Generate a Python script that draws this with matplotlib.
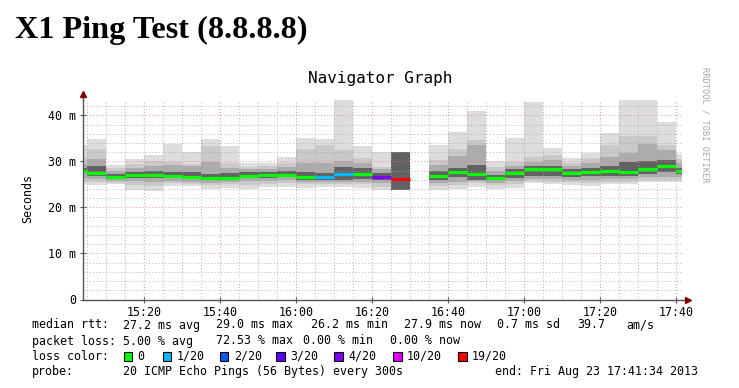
import numpy as np
import matplotlib
matplotlib.use("Agg")
import matplotlib.pyplot as plt

# ---------------- data ----------------
col_start = ["15:00", "15:05", "15:10", "15:15", "15:20", "15:25", "15:30", "15:35",
             "15:40", "15:45", "15:50", "15:55", "16:00", "16:05", "16:10", "16:15",
             "16:20", "16:25", "16:30", "16:35", "16:40", "16:45", "16:50", "16:55",
             "17:00", "17:05", "17:10", "17:15", "17:20", "17:25", "17:30", "17:35",
             "17:40"]
N = None
rtt_min = [25.0, 24.9, 25.0, 23.8, 23.6, 24.7, 24.7, 24.0, 24.3, 24.1, 24.4, 24.5,
           24.3, 24.5, 24.5, 24.3, 23.8, 23.8, N, 23.8, 24.1, 24.5, 24.0, 24.3,
           25.2, 25.0, 24.9, 24.7, 25.0, 25.0, 25.45, 25.45, 25.45]
rtt_p10 = [25.6, 25.6, 25.4, 24.9, 24.7, 25.2, 25.0, 24.9, 25.0, 24.9, 25.1, 25.2,
           25.0, 25.1, 25.0, 25.0, 24.5, 23.8, N, 24.6, 24.9, 25.2, 24.8, 25.0,
           25.7, 25.6, 25.5, 25.4, 25.6, 25.6, 26.0, 26.0, 26.0]
rtt_p25 = [26.4, 26.2, 25.8, 25.7, 25.6, 25.7, 25.6, 25.4, 25.5, 25.7, 25.8, 25.9,
           25.6, 25.6, 25.5, 25.6, 25.2, 23.8, N, 25.3, 25.6, 25.8, 25.4, 25.7,
           26.2, 26.2, 26.0, 26.0, 26.2, 26.2, 26.6, 26.7, 26.6]
rtt_p40 = [27.4, 26.8, 26.2, 26.4, 26.4, 26.3, 26.1, 25.9, 26.0, 26.4, 26.4, 26.5,
           25.9, 26.0, 26.0, 26.2, 25.9, 23.8, N, 26.0, 26.5, 26.0, 25.9, 26.4,
           26.9, 26.9, 26.7, 26.8, 26.9, 26.9, 27.3, 27.6, 27.2]
rtt_med = [28.0, 27.4, 26.6, 27.0, 27.0, 26.9, 26.7, 26.3, 26.4, 26.9, 27.0, 27.0,
           26.5, 26.5, 27.3, 27.3, 26.5, 26.2, N, 26.85, 27.6, 27.3, 26.3, 27.55,
           28.3, 28.3, 27.4, 27.7, 27.9, 27.6, 28.35, 29.05, 27.85]
rtt_p60 = [28.6, 28.9, 27.2, 27.7, 27.8, 27.6, 27.6, 27.3, 27.4, 27.6, 27.7, 27.8,
           27.6, 27.4, 28.8, 28.5, 27.4, 32.0, N, 27.8, 28.6, 29.2, 27.0, 28.3,
           28.9, 29.0, 28.4, 28.6, 28.9, 29.9, 30.0, 30.3, 28.6]
rtt_p75 = [29.5, 30.5, 27.9, 28.5, 29.0, 29.2, 28.9, 29.9, 28.6, 28.3, 28.4, 28.8,
           29.6, 29.6, 30.1, 29.6, 28.3, 32.0, N, 29.2, 31.2, 33.55, 28.0, 29.0,
           29.9, 30.3, 29.0, 29.6, 31.0, 31.75, 33.8, 32.5, 29.6]
rtt_p90 = [31.0, 32.7, 28.5, 29.4, 30.1, 29.9, 29.4, 33.4, 29.6, 28.8, 29.0, 29.6,
           32.7, 33.55, 32.5, 30.8, 28.8, 32.0, N, 30.3, 32.6, 34.6, 28.7, 29.9,
           31.0, 31.4, 29.6, 30.66, 33.55, 35.4, 35.4, 33.55, 30.5]
rtt_max = [33.5, 34.85, 29.1, 30.5, 31.4, 33.8, 32.1, 34.85, 33.4, 29.7, 29.6, 31.0,
           35.15, 34.85, 45.0, 33.3, 31.95, 32.0, N, 33.6, 36.45, 40.9, 30.0, 35.15,
           42.96, 32.97, 30.66, 31.9, 36.1, 45.0, 45.0, 38.47, 31.7]
loss = [0, 0, 0, 0, 0, 0, 0, 0, 0, 0, 0, 0, 0, 1, 1, 0, 4, 19, N, 0, 0, 0, 0, 0,
        0, 0, 0, 0, 0, 0, 0, 0, 0]

loss_levels = ["0", "1/20", "2/20", "3/20", "4/20", "10/20", "19/20"]
loss_colors = ["#00ff00", "#00b8ff", "#0059ff", "#5e00ff", "#7e00ff", "#dd00ff", "#ff0000"]
loss_count = [0, 1, 2, 3, 4, 10, 19]

x_tick_labels = ["15:20", "15:40", "16:00", "16:20", "16:40", "17:00", "17:20", "17:40"]
y_tick_labels = ["0", "10 m", "20 m", "30 m", "40 m"]

stats_rtt = ["27.2 ms avg", "29.0 ms max", "26.2 ms min", "27.9 ms now", "0.7 ms sd", "39.7", "am/s"]
stats_loss = ["5.00 % avg", "72.53 % max", "0.00 % min", "0.00 % now"]

# ---------------- helpers ----------------
W, H = 739, 388
MONO = "DejaVu Sans Mono"


def tmin(s):
    h, m = s.split(":")
    return (int(h) - 15) * 60 + int(m)


def px(x, y):
    return x / W, 1 - y / H


fig = plt.figure(figsize=(W / 100, H / 100), dpi=100)
fig.patch.set_facecolor("white")

ax_l, ax_r, ax_b, ax_t = 83, 681.6, 299.5, 99.5
ax = fig.add_axes([ax_l / W, (H - ax_b) / H, (ax_r - ax_l) / W, (ax_b - ax_t) / H])
ax.set_facecolor("white")

x0 = tmin("15:04")
x1 = tmin("17:41") + 34 / 60
ymax = 43.43
ax.set_xlim(x0, x1)
ax.set_ylim(0, ymax)

starts = np.array([tmin(s) for s in col_start], dtype=float)


def arr(a):
    return np.array([np.nan if v is None else v for v in a], dtype=float)


mn, p10, p25, p40 = arr(rtt_min), arr(rtt_p10), arr(rtt_p25), arr(rtt_p40)
md, p60, p75, p90, mx = arr(rtt_med), arr(rtt_p60), arr(rtt_p75), arr(rtt_p90), arr(rtt_max)

band_pairs = [(mn, mx, "#dddddd"), (p10, p90, "#c9c9c9"),
              (p25, p75, "#acacac"), (p40, p60, "#626262")]
ok = ~np.isnan(md)
for lo, hi, c in band_pairs:
    ax.bar(starts[ok], (hi - lo)[ok], bottom=lo[ok], width=5, align="edge",
           color=c, linewidth=0, zorder=2)

# grid (drawn over the smoke, like rrdtool)
for m in np.arange(0, ymax, 2):
    major = (m % 10 == 0)
    ax.axhline(m, color="#e08080" if major else "#a8a8a8", alpha=0.75,
               lw=0.75, ls=(0, (1, 2)), zorder=3)
for t in np.arange(5, x1, 5):
    if t <= x0:
        continue
    major = (t % 20 == 0)
    ax.axvline(t, color="#e08080" if major else "#a8a8a8", alpha=0.75,
               lw=0.75, ls=(0, (1, 2)), zorder=3)

# median lines coloured by loss
for s, v, l in zip(starts, md, loss):
    if l is None or np.isnan(v):
        continue
    c = loss_colors[loss_count.index(l)]
    ax.hlines(v, s, s + 5, colors=c, lw=2.3, zorder=4)

# axes styling
for sp in ["top", "right"]:
    ax.spines[sp].set_visible(False)
for sp in ["left", "bottom"]:
    ax.spines[sp].set_color("#555555")
    ax.spines[sp].set_linewidth(1.0)
    ax.spines[sp].set_zorder(5)

ax.set_xticks([tmin(s) for s in x_tick_labels])
ax.set_xticklabels(x_tick_labels, fontfamily=MONO, fontsize=8.4)
ax.set_yticks([0, 10, 20, 30, 40])
ax.set_yticklabels(y_tick_labels, fontfamily=MONO, fontsize=8.4)
ax.tick_params(axis="both", direction="inout", length=4, width=0.8, color="#555555", pad=2.5)
ax.tick_params(axis="y", pad=3)

# axis extensions and arrows
ax.plot([0, 0], [1, 1.03], transform=ax.transAxes, color="#555555", lw=1, clip_on=False)
ax.plot([1, 1.009], [0, 0], transform=ax.transAxes, color="#555555", lw=1, clip_on=False)
ax.plot([0], [1.03], transform=ax.transAxes, marker="^", ms=5, color="#7f0000",
        clip_on=False, zorder=6)
ax.plot([1.011], [0], transform=ax.transAxes, marker=">", ms=5, color="#7f0000",
        clip_on=False, zorder=6)

# titles
fig.text(*px(15, 38), "X1 Ping Test (8.8.8.8)", fontfamily="Liberation Serif",
         fontweight="bold", fontsize=23.2, ha="left", va="baseline")
fig.text(*px(380, 79), "Navigator Graph", fontfamily=MONO, fontsize=11.5,
         ha="center", va="center")
fig.text(*px(28, 199), "Seconds", fontfamily=MONO, fontsize=8.4, rotation=90,
         ha="center", va="center")
fig.text(*px(705, 125), "RRDTOOL / TOBI OETIKER", fontfamily=MONO, fontsize=6.2,
         rotation=270, ha="center", va="center", color="#a8a8a8")

# legend rows
fs = 8.4
y1, y2, y3, y4 = 325, 341, 356, 372
fig.text(*px(32, y1), "median rtt:", fontfamily=MONO, fontsize=fs, va="center")
for xx, s in zip([123, 216, 311, 404, 497, 577, 626], stats_rtt):
    fig.text(*px(xx, y1), s, fontfamily=MONO, fontsize=fs, va="center")
fig.text(*px(32, y2), "packet loss:", fontfamily=MONO, fontsize=fs, va="center")
for xx, s in zip([123, 216, 303, 390], stats_loss):
    fig.text(*px(xx, y2), s, fontfamily=MONO, fontsize=fs, va="center")
fig.text(*px(32, y3), "loss color:", fontfamily=MONO, fontsize=fs, va="center")
box_x = [123.5, 162.5, 220, 276, 334, 393, 458]
for bx, lab, c in zip(box_x, loss_levels, loss_colors):
    fx, fy = px(bx, y3 + 4.5)
    fig.patches.append(plt.Rectangle((fx, fy), 8.5 / W, 9 / H, transform=fig.transFigure,
                                     facecolor=c, edgecolor="black", lw=0.8))
    fig.text(*px(bx + 14, y3), lab, fontfamily=MONO, fontsize=fs, va="center")
fig.text(*px(32, y4), "probe:", fontfamily=MONO, fontsize=fs, va="center")
fig.text(*px(123, y4), "20 ICMP Echo Pings (56 Bytes) every 300s", fontfamily=MONO,
         fontsize=fs, va="center")
fig.text(*px(495, y4), "end: Fri Aug 23 17:41:34 2013", fontfamily=MONO, fontsize=fs,
         va="center")

fig.savefig("out.png", dpi=100, facecolor="white")
